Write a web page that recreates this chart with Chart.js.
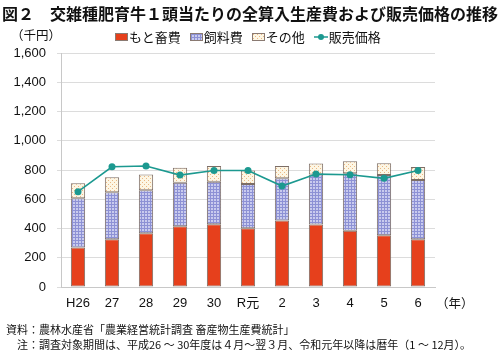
<!DOCTYPE html>
<html>
<head>
<meta charset="utf-8">
<script src="https://cdn.jsdelivr.net/npm/chart.js@4"></script>
<style>
  html, body { margin: 0; padding: 0; background: #fff; }
  #wrap { position: relative; width: 500px; height: 351px; overflow: hidden; font-family: "Noto Sans CJK JP", sans-serif; color: #111; }
  #chart { position: absolute; left: 0; top: 0; }
  .txt { position: absolute; white-space: nowrap; line-height: 1; }
  #title { left: 2px; top: 5px; font-size: 16px; font-weight: bold; letter-spacing: 0px; }
  #unit { left: 11px; top: 29px; font-size: 12.5px; }
  #year { left: 436px; top: 297px; font-size: 12.5px; }
  #legend { position: absolute; left: 115px; top: 27px; display: flex; align-items: center; font-size: 13px; }
  .item { display: flex; align-items: center; margin-right: 9px; }
  .sw { width: 13px; height: 8px; margin-right: 1px; box-sizing: border-box; border: 1px solid #8a7a72; }
  #note1 { left: 6px; top: 324px; font-size: 11px; }
  #note2 { left: 17px; top: 339px; font-size: 11px; }
</style>
</head>
<body>
<div id="wrap">
  <canvas id="chart" width="500" height="351"></canvas>
  <div id="title" class="txt">図２　交雑種肥育牛１頭当たりの全算入生産費および販売価格の推移</div>
  <div id="unit" class="txt">（千円）</div>
  <div id="legend"></div>
  <div id="year" class="txt">（年）</div>
  <div id="note1" class="txt">資料：農林水産省「農業経営統計調査 畜産物生産費統計」</div>
  <div id="note2" class="txt">注：調査対象期間は、平成26 ～ 30年度は４月～翌３月、令和元年以降は暦年（1 ～ 12月）。</div>
</div>
<script>
// data (千円)
const years = ['H26', '27', '28', '29', '30', 'R元', '2', '3', '4', '5', '6'];
const motoFee = [270, 327, 368, 416, 429, 402, 454, 427, 384, 354, 327];   // もと畜費
const feedFee = [337, 321, 293, 297, 291, 302, 289, 343, 393, 411, 404];   // 飼料費
const otherFee = [102, 102, 109, 102, 107, 93, 84, 75, 82, 82, 89];        // その他
const salePrice = [652, 822, 827, 765, 797, 797, 690, 772, 768, 743, 797]; // 販売価格
const yTicks = [0, 200, 400, 600, 800, 1000, 1200, 1400, 1600];

const RED = '#e6401c';
const TEAL = '#1c9990';
const EDGE = '#7d6e66';

// small tile patterns for the feed / other bars
function makePattern(bg, fg, size, draw) {
    const c = document.createElement('canvas');
    c.width = size; c.height = size;
    const g = c.getContext('2d');
    g.fillStyle = bg;
    g.fillRect(0, 0, size, size);
    g.fillStyle = fg;
    draw(g);
    return c;
}
const feedTile = makePattern('#c9cbee', '#8d91d5', 3, g => {
    g.fillRect(0, 0, 3, 1);
    g.fillRect(0, 0, 1, 3);
});
const otherTile = makePattern('#fdf6e4', '#eab884', 4, g => {
    g.fillRect(0, 0, 1, 1);
    g.fillRect(2, 2, 1, 1);
});

const ctx = document.getElementById('chart').getContext('2d');
const feedPattern = ctx.createPattern(feedTile, 'repeat');
const otherPattern = ctx.createPattern(otherTile, 'repeat');

// html legend
const legendItems = [
    { label: 'もと畜費', css: `background:${RED};` },
    { label: '飼料費', css: `background:url(${feedTile.toDataURL()});` },
    { label: 'その他', css: `background:url(${otherTile.toDataURL()});` }
];
const legend = document.getElementById('legend');
legendItems.forEach(item => {
    const el = document.createElement('div');
    el.className = 'item';
    el.innerHTML = `<span class="sw" style="${item.css}"></span><span>${item.label}</span>`;
    legend.appendChild(el);
});
const lineItem = document.createElement('div');
lineItem.className = 'item';
lineItem.innerHTML = `<svg width="14" height="8" style="margin-right:1px"><line x1="0" y1="4" x2="14" y2="4" stroke="${TEAL}" stroke-width="1.5"/><circle cx="7" cy="4" r="3" fill="${TEAL}"/></svg><span>販売価格</span>`;
legend.appendChild(lineItem);

const barCommon = {
    stack: 'cost',
    borderColor: EDGE,
    borderWidth: 1,
    borderSkipped: false,
    barPercentage: 0.42,
    categoryPercentage: 1,
    order: 2
};

new Chart(ctx, {
    type: 'bar',
    data: {
        labels: years,
        datasets: [
            { label: 'もと畜費', data: motoFee, backgroundColor: RED, ...barCommon },
            { label: '飼料費', data: feedFee, backgroundColor: feedPattern, ...barCommon },
            { label: 'その他', data: otherFee, backgroundColor: otherPattern, ...barCommon },
            {
                type: 'line',
                label: '販売価格',
                data: salePrice,
                borderColor: TEAL,
                backgroundColor: TEAL,
                borderWidth: 1.6,
                pointRadius: 3.5,
                pointBorderWidth: 0,
                tension: 0,
                order: 0
            }
        ]
    },
    options: {
        responsive: false,
        animation: false,
        devicePixelRatio: 1,
        locale: 'en-US',
        layout: { padding: { top: 53, right: 65, bottom: 40, left: 0 } },
        plugins: {
            legend: { display: false },
            tooltip: { enabled: false }
        },
        scales: {
            x: {
                stacked: true,
                grid: { display: false, drawTicks: false },
                border: { color: '#c8c8c8' },
                ticks: {
                    padding: 9,
                    color: '#111',
                    font: { family: '"Liberation Sans", "Noto Sans CJK JP", sans-serif', size: 13 }
                },
                afterFit: scale => { scale.height = 24; }
            },
            y: {
                stacked: true,
                min: 0,
                max: 1600,
                afterBuildTicks: scale => { scale.ticks = yTicks.map(v => ({ value: v })); },
                grid: { color: '#dcdcdc', tickLength: 4 },
                border: { color: '#c8c8c8' },
                ticks: {
                    padding: 11,
                    color: '#111',
                    font: { family: '"Liberation Sans", sans-serif', size: 13 }
                },
                afterFit: scale => { scale.width = 61; }
            }
        }
    }
});
</script>
</body>
</html>
